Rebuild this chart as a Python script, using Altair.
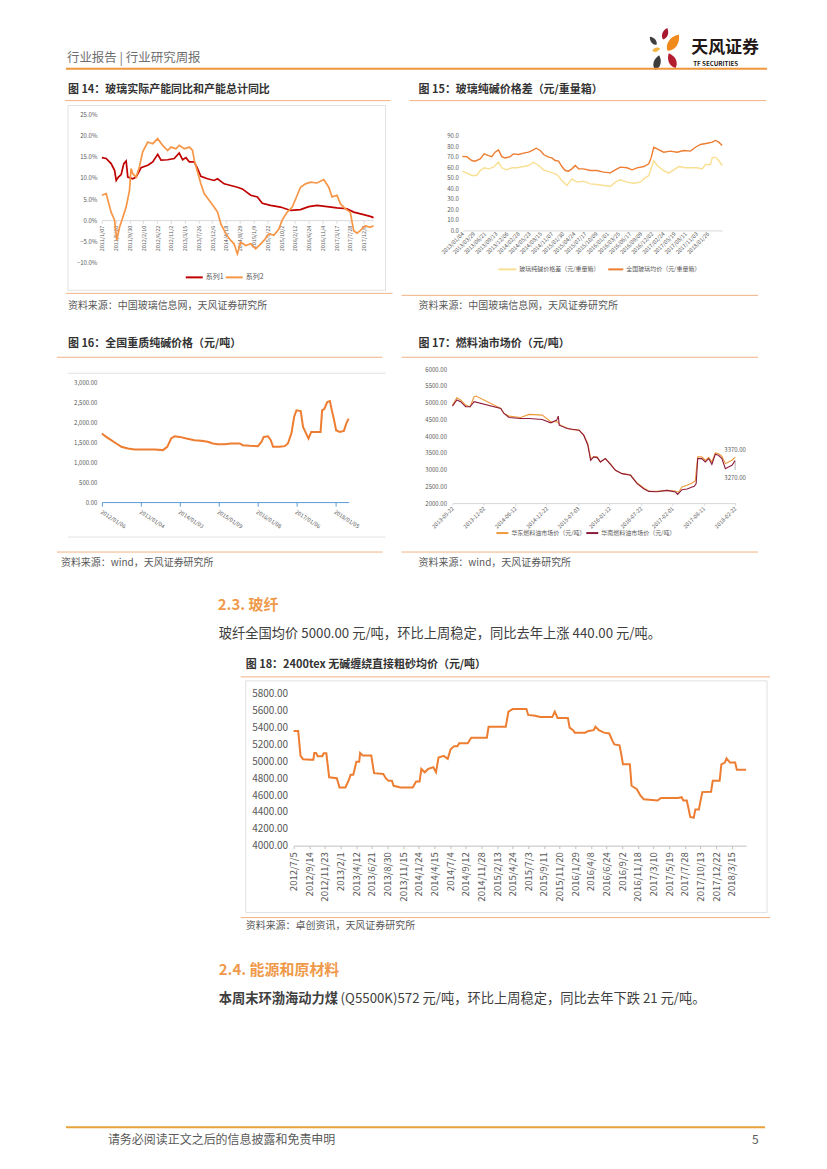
import json
import altair as alt
import pandas as pd

FONT = "Noto Sans CJK SC"
GREY = "#595959"
TXT = "#404040"
OR_THIN = "#f4b183"
OR_HEAD = "#ef9a4a"
BOXC = "#d9d9d9"

# ---------------- Fig 14 ----------------
c14_labels = ["2011/1/07", "2011/5/20", "2011/9/30", "2012/2/10", "2012/6/22", "2012/11/2",
              "2013/3/15", "2013/7/26", "2013/12/6", "2014/4/18", "2014/8/29", "2015/1/9",
              "2015/5/22", "2015/10/2", "2016/2/12", "2016/6/24", "2016/11/4", "2017/3/17",
              "2017/7/28", "2017/12/8"]
c14_x1 = [0.00, 0.31, 0.67, 0.92, 1.04, 1.20, 1.40, 1.59, 1.76, 1.88, 2.24, 2.48, 2.84, 3.33, 3.69,
          4.05, 4.29, 4.77, 5.25, 5.61, 5.86, 6.10, 6.34, 6.70, 6.94, 7.18, 7.66, 8.14, 8.39, 8.87,
          9.35, 9.83, 10.19, 10.80, 11.28, 11.64, 12.24, 12.96, 13.69, 14.41, 15.01, 15.61, 16.34,
          17.06, 17.78, 18.27, 18.99, 19.47, 19.71]
c14_v1 = [14.8, 14.6, 13.4, 11.8, 9.4, 10.2, 10.8, 13.4, 14.0, 10.2, 9.8, 10.2, 12.4, 13.0, 13.8,
          15.6, 14.2, 14.3, 14.6, 15.9, 14.3, 14.8, 13.8, 13.8, 12.2, 10.4, 9.8, 9.4, 9.8, 8.6,
          8.2, 7.8, 7.4, 5.9, 5.5, 4.0, 3.5, 3.1, 2.3, 2.5, 3.2, 3.5, 3.2,
          2.9, 2.7, 1.9, 1.3, 0.9, 0.6]
c14_x2 = [0.00, 0.31, 0.67, 0.92, 1.08, 1.28, 1.52, 1.76, 2.00, 2.12, 2.24, 2.48, 2.72, 2.96, 3.33,
          3.69, 4.05, 4.41, 4.77, 5.01, 5.37, 5.61, 5.98, 6.34, 6.58, 6.70, 6.94, 7.18, 7.42, 7.78,
          8.14, 8.39, 8.63, 8.99, 9.35, 9.59, 9.83, 10.07, 10.43, 10.80, 11.16, 11.52, 11.76, 12.12,
          12.48, 12.84, 13.08, 13.45, 13.81, 14.17, 14.41, 14.77, 15.13, 15.61, 16.10, 16.46, 16.70,
          17.06, 17.30, 17.66, 18.02, 18.27, 18.51, 18.75, 19.11, 19.47, 19.71]
c14_v2 = [5.9, 6.3, 1.9, 0.0, -4.8, -1.7, 0.7, 3.1, 7.0, 12.2, 11.0, 10.2, 12.6, 16.2, 18.5,
          18.1, 19.3, 17.7, 16.5, 17.3, 16.9, 17.7, 16.9, 17.3, 16.5, 14.2, 11.4, 8.6, 6.3, 4.7,
          3.1, 1.9, -0.9, -3.2, -4.8, -5.6, -8.0, -5.2, -6.0, -5.6, -6.8, -5.6, -4.8, -3.2,
          -3.6, -2.1, 0.0, 1.9, 3.1, 5.9, 7.8, 8.6, 9.0, 8.8, 9.6, 7.8, 5.5,
          5.9, 3.9, 2.7, 1.9, -2.5, -3.1, -2.5, -1.3, -1.7, -1.3]
c14_series = ["系列1", "系列2"]
c14_colors = ["#c00000", "#f79646"]
c14_yticks = [-10, -5, 0, 5, 10, 15, 20, 25]

# ---------------- Fig 15 ----------------
c15_labels = ["2013/01/04", "2013/03/29", "2013/06/21", "2013/09/13", "2013/12/06", "2014/02/28",
              "2014/05/23", "2014/08/15", "2014/11/07", "2015/01/30", "2015/04/24", "2015/07/17",
              "2015/10/09", "2016/01/01", "2016/03/25", "2016/06/17", "2016/09/09", "2016/12/02",
              "2017/02/24", "2017/05/19", "2017/08/11", "2017/11/03", "2018/01/26"]
c15_xa = [0, 0.39, 0.84, 1.14, 1.59, 1.95, 2.34, 2.63, 2.93, 3.23, 3.53, 3.83, 4.28, 4.58, 5.03,
          5.48, 5.93, 6.23, 6.62, 6.98, 7.28, 7.72, 8.02, 8.32, 8.62, 8.92, 9.22, 9.52, 9.82, 10.12,
          10.42, 10.87, 11.47, 12.07, 12.66, 13.26, 13.71, 14.16, 14.76, 15.21, 15.66, 16.26, 16.71,
          16.92, 17.16, 17.46, 18.05, 18.65, 19.25, 19.85, 20.45, 20.90, 21.35, 21.95, 22.40, 22.69,
          22.99, 23.29]
c15_va = [70.1, 70, 66.3, 65.7, 67.9, 72.6, 71, 70, 74.2, 76.4, 70, 68.8, 70, 72.6, 72,
          73.3, 74.2, 75.8, 78, 75.8, 72, 69.5, 68.8, 66.3, 65.7, 60.6, 56.8, 56.2, 58.4, 61.6,
          58.4, 58.4, 56.8, 56.8, 55.3, 54.6, 57.5, 60, 59.4, 57.5, 59.4, 60.6, 63.2,
          68.8, 78.9, 77.4, 74.2, 75.2, 74.2, 75.8, 75.2, 78.9, 81.5, 82.7, 83.7, 85.3,
          83.7, 80.5]
c15_xb = [0, 0.39, 0.84, 1.29, 1.59, 1.95, 2.34, 2.78, 3.23, 3.53, 3.98, 4.43, 4.88, 5.48, 5.93,
          6.38, 6.83, 7.28, 7.87, 8.47, 8.92, 9.37, 9.82, 10.27, 10.87, 11.47, 12.07, 12.66, 13.26,
          13.71, 14.16, 14.76, 15.36, 15.96, 16.26, 16.71, 16.92, 17.16, 17.46, 18.05, 18.50, 18.95,
          19.40, 20.00, 20.60, 21.05, 21.50, 21.80, 22.25, 22.40, 22.69, 22.99, 23.29]
c15_vb = [56.2, 54.3, 52.1, 52.1, 56.8, 59.4, 58.4, 60, 64.7, 59.4, 57.5, 59.4, 59.4, 60.6, 61.6,
          64.7, 61.6, 57.5, 55.3, 53, 47.4, 42.6, 48.9, 45.8, 46.7, 44.2, 43.6, 42.6, 41.7,
          45.8, 48, 45.8, 44.8, 45.8, 48.9, 52.1, 58.4, 66.3, 61.6, 56.8, 54.3, 57.5,
          60.6, 59.4, 59.4, 59.4, 58.4, 62.5, 62.5, 68.8, 69.5, 66.3, 61.6]
c15_series = ["玻璃纯碱价格差（元/重量箱）", "全国玻璃均价（元/重量箱）"]
c15_colors = ["#f9df91", "#ed7d31"]
c15_yticks = [0, 10, 20, 30, 40, 50, 60, 70, 80, 90]

# ---------------- Fig 16 ----------------
c16_labels = ["2012/01/06", "2013/01/04", "2014/01/03", "2015/01/09", "2016/01/08", "2017/01/06",
              "2018/01/05"]
c16_x = [0, 0.11, 0.24, 0.37, 0.50, 0.67, 0.84, 1.10, 1.35, 1.57, 1.68, 1.78, 1.87, 2.00, 2.17,
         2.38, 2.55, 2.72, 2.85, 2.98, 3.15, 3.32, 3.54, 3.62, 3.80, 4.01, 4.10, 4.16, 4.27, 4.34,
         4.40, 4.57, 4.70, 4.78, 4.87, 4.94, 5.00, 5.11, 5.17, 5.25, 5.31, 5.38, 5.55, 5.62, 5.66,
         5.72, 5.79, 5.86, 5.91, 5.96, 6.02, 6.11, 6.22, 6.28, 6.34]
c16_v = [1715, 1632, 1550, 1467, 1384, 1343, 1318, 1318, 1318, 1301, 1384, 1591, 1649, 1632, 1591,
         1550, 1533, 1508, 1467, 1450, 1450, 1467, 1467, 1425, 1409, 1400, 1508, 1632, 1649, 1550,
         1384, 1384, 1400, 1467, 1715, 2130, 2296, 2279, 1881, 1715, 1591, 1757, 1757, 1757, 2296,
         2337, 2503, 2528, 2296, 2088, 1798, 1757, 1782, 1964, 2088]
c16_yticks = [0, 500, 1000, 1500, 2000, 2500, 3000]

# ---------------- Fig 17 ----------------
c17_labels = ["2013-05-22", "2013-12-02", "2014-06-12", "2014-12-22", "2015-07-03", "2016-01-12",
              "2016-07-22", "2017-02-01", "2017-08-11", "2018-02-22"]
c17_xa = [0, 0.14, 0.26, 0.42, 0.56, 0.69, 0.75, 1.54, 1.64, 1.80, 2.17, 2.44, 2.86, 3.13, 3.34,
          3.44, 3.76, 4.03, 4.18, 4.31, 4.40, 4.50, 4.61, 4.71, 4.87, 5.03, 5.19, 5.40, 5.67, 5.88,
          6.09, 6.25, 6.51, 6.83, 7.10, 7.20, 7.31, 7.47, 7.63, 7.73, 7.81, 7.94, 8.05, 8.16, 8.26,
          8.37, 8.47, 8.58, 8.69, 8.79, 8.90, 9.00]
c17_va = [4930, 5150, 5080, 4930, 4880, 5180, 5200, 4830, 4680, 4600, 4560, 4650, 4630, 4430, 4430,
          4330, 4200, 4180, 4030, 3780, 3330, 3380, 3380, 3230, 3330, 3180, 2980, 2880, 2850, 2600,
          2450, 2360, 2350, 2380, 2360, 2320, 2480, 2530, 2600, 2660, 3380, 3380, 3280, 3360, 3230,
          3500, 3480, 3400, 3180, 3230, 3280, 3370]
c17_xb = [0, 0.14, 0.26, 0.42, 0.56, 0.69, 1.54, 1.64, 1.80, 2.17, 2.44, 2.86, 3.13, 3.32, 3.37,
          3.40, 3.65, 4.03, 4.18, 4.31, 4.40, 4.50, 4.61, 4.71, 4.87, 5.03, 5.19, 5.40, 5.67, 5.88,
          6.09, 6.25, 6.51, 6.83, 7.10, 7.17, 7.31, 7.47, 7.63, 7.70, 7.76, 7.81, 7.94, 8.05, 8.16,
          8.26, 8.37, 8.47, 8.58, 8.69, 8.79, 8.90, 9.00]
c17_vb = [4900, 5080, 5030, 4880, 4880, 5030, 4830, 4680, 4560, 4530, 4530, 4500, 4400, 4480, 4600,
          4330, 4230, 4180, 4030, 3730, 3280, 3380, 3360, 3230, 3330, 3160, 2980, 2880, 2830, 2580,
          2430, 2350, 2340, 2380, 2330, 2260, 2400, 2420, 2480, 2500, 2580, 3330, 3330, 3230, 3330,
          3160, 3460, 3430, 3330, 3030, 3080, 3130, 3270]
c17_series = ["华东燃料油市场价（元/吨）", "华南燃料油市场价（元/吨）"]
c17_colors = ["#ee9a3a", "#8c1c3c"]
c17_yticks = [2000, 2500, 3000, 3500, 4000, 4500, 5000, 5500, 6000]

# ---------------- Fig 18 ----------------
c18_labels = ["2012/7/5", "2012/9/14", "2012/11/23", "2013/2/1", "2013/4/12", "2013/6/21",
              "2013/8/30", "2013/11/15", "2014/1/24", "2014/4/15", "2014/7/4", "2014/9/12",
              "2014/11/28", "2015/2/13", "2015/4/24", "2015/7/3", "2015/9/11", "2015/11/20",
              "2016/1/29", "2016/4/8", "2016/6/24", "2016/9/2", "2016/11/18", "2017/3/10",
              "2017/5/19", "2017/7/28", "2017/10/13", "2017/12/22", "2018/3/15"]
c18_x = [0.00, 0.29, 0.44, 0.60, 1.10, 1.26, 1.32, 1.43, 1.54, 1.83, 1.92, 2.09, 2.27, 2.76, 2.93,
         3.31, 3.53, 3.64, 3.81, 3.90, 4.01, 4.19, 4.25, 4.41, 4.96, 5.14, 5.73, 5.89, 6.06, 6.28,
         6.39, 6.83, 7.61, 7.83, 8.05, 8.16, 8.38, 8.60, 8.93, 9.10, 9.26, 9.59, 9.85, 10.03, 10.25,
         10.47, 10.58, 11.13, 11.35, 12.35, 12.46, 13.56, 13.73, 14.00, 14.88, 14.99, 15.43, 15.76,
         16.53, 16.69, 16.87, 17.53, 17.64, 17.86, 17.97, 18.63, 18.85, 19.18, 19.29, 19.51, 19.84,
         20.17, 20.39, 20.50, 20.83, 20.94, 21.05, 21.49, 21.60, 21.94, 22.16, 22.38, 23.26, 23.48,
         24.58, 24.80, 24.91, 25.13, 25.24, 25.35, 25.57, 25.68, 25.90, 26.12, 26.68, 26.79, 27.23,
         27.34, 27.56, 27.67, 27.89, 28.22, 28.33, 28.92]
c18_v = [5360, 5360, 5065, 5025, 5020, 5020, 5100, 5100, 5060, 5060, 5095, 5095, 4810, 4800, 4690,
         4690, 4780, 4840, 4840, 4910, 4995, 4995, 5100, 5070, 5070, 4860, 4850, 4800, 4770, 4770,
         4710, 4690, 4690, 4760, 4760, 4910, 4870, 4910, 4930, 4870, 5045, 5065, 5030, 5140, 5180,
         5180, 5215, 5215, 5280, 5280, 5410, 5410, 5590, 5620, 5620, 5550, 5540, 5525,
         5525, 5590, 5515, 5515, 5400, 5370, 5340, 5340, 5360, 5370, 5410, 5370, 5340,
         5330, 5240, 5200, 5190, 5085, 4965, 4965, 4710, 4670, 4595, 4550, 4535, 4565,
         4565, 4575, 4535, 4535, 4440, 4340, 4330, 4430, 4430, 4635, 4640, 4770, 4770,
         4965, 4985, 5035, 4985, 4985, 4900, 4900]
c18_yticks = [4000, 4200, 4400, 4600, 4800, 5000, 5200, 5400, 5600, 5800]

# ---------------- texts ----------------
header_text = "行业报告  |  行业研究周报"
t14 = "图 14：玻璃实际产能同比和产能总计同比"
t15 = "图 15：玻璃纯碱价格差（元/重量箱）"
t16 = "图 16：全国重质纯碱价格（元/吨）"
t17 = "图 17：燃料油市场价（元/吨）"
t18 = "图 18：2400tex 无碱缠绕直接粗砂均价（元/吨）"
src_glass = "资料来源：中国玻璃信息网，天风证券研究所"
src_wind = "资料来源：wind，天风证券研究所"
src_zc = "资料来源：卓创资讯，天风证券研究所"
sec23 = "2.3. 玻纤"
para23 = "玻纤全国均价 5000.00 元/吨，环比上周稳定，同比去年上涨 440.00 元/吨。"
sec24 = "2.4. 能源和原材料"
para24_bold = "本周末环渤海动力煤"
para24_rest = "(Q5500K)572 元/吨，环比上周稳定，同比去年下跌 21 元/吨。"
footer_text = "请务必阅读正文之后的信息披露和免责申明"
page_no = "5"

# ---------------- helpers ----------------
ONE = pd.DataFrame({"a": [0]})


def spacer(w, h):
    return alt.Chart(ONE).mark_point(opacity=0, size=1).encode(
        x=alt.value(0), y=alt.value(0)).properties(width=w, height=h)


def txt(t, x, y, size, color=TXT, weight="normal", align="left"):
    return alt.Chart(ONE).mark_text(text=t, align=align, baseline="middle", font=FONT,
                                    fontSize=size, color=color, fontWeight=weight).encode(
        x=alt.value(x), y=alt.value(y))


def hline(x1, x2, y, color=OR_THIN, w=1.0):
    return alt.Chart(ONE).mark_rule(color=color, strokeWidth=w).encode(
        x=alt.value(x1), x2=alt.value(x2), y=alt.value(y))


def box(x1, x2, y1, y2, color=BOXC):
    return alt.Chart(ONE).mark_rect(fillOpacity=0, stroke=color, strokeWidth=0.8).encode(
        x=alt.value(x1), x2=alt.value(x2), y=alt.value(y1), y2=alt.value(y2))


def legend(entries, y, size):
    out = []
    for x0, length, color, label in entries:
        out.append(hline(x0, x0 + length, y, color, 2))
        out.append(txt(label, x0 + length + 3, y, size, GREY))
    return out


PETAL = "M0,-1C0.62,-0.35 0.62,0.55 0,1C-0.62,0.55 -0.62,-0.35 0,-1Z"


def petal(x, y, size, angle, color):
    return alt.Chart(ONE).mark_point(shape=PETAL, filled=True, size=size, angle=angle % 360,
                                     color=color, opacity=1, strokeWidth=0).encode(
        x=alt.value(x), y=alt.value(y))


def lab_expr(labels):
    return json.dumps(labels, ensure_ascii=False) + "[round(datum.value)]"


def ax(**kw):
    base = dict(title=None, labelFont=FONT, labelColor=GREY, grid=False, labelOverlap=False,
                labelFlush=False)
    base.update(kw)
    return alt.Axis(**base)


def series_line(xs, vs, color, width, xenc, yenc):
    return alt.Chart(pd.DataFrame({"x": xs, "v": vs})).mark_line(
        color=color, strokeWidth=width).encode(x=xenc, y=yenc)


# ---------------- band A (header + titles of 14/15) ----------------
bandA = alt.layer(
    txt(header_text, 58, 49, 12.5, "#6f6f6f"),
    petal(657, 25, 150, 20, "#a8182f"),
    petal(645, 32, 110, -40, "#404040"),
    petal(665, 34, 400, 35, "#f08a1c"),
    petal(648, 41, 70, 70, "#f6b33c"),
    petal(649, 54, 230, 15, "#3c3c3c"),
    petal(664, 52, 260, -25, "#b41c30"),
    txt("天风证券", 683, 39, 17, "#231815", "bold"),
    txt("TF SECURITIES", 685, 55, 6.2, "#231815", "bold"),
    hline(57, 759, 60, "#f0963c", 2),
    txt(t14, 59, 81, 11, "#333333", "bold"),
    hline(56, 382, 92),
    txt(t15, 410, 81, 11, "#333333", "bold"),
    hline(401, 758, 92),
).properties(width=811, height=106)

# ---------------- Fig 14 ----------------
W14, H14 = 272, 148
x14 = alt.X("x:Q", scale=alt.Scale(domain=[0, 19.71], nice=False, zero=False),
            axis=ax(values=list(range(len(c14_labels))), labelExpr=lab_expr(c14_labels),
                    labelAngle=270, labelAlign="right", labelBaseline="middle", labelFontSize=5.5,
                    labelPadding=2, offset=-H14 * 10 / 35, domainColor=BOXC, tickColor=BOXC,
                    tickSize=3))
y14 = alt.Y("v:Q", scale=alt.Scale(domain=[-10, 25], nice=False, zero=False),
            axis=ax(values=c14_yticks, labelExpr="format(datum.value,'.1f')+'%'", domain=False,
                    ticks=False, labelFontSize=6, labelPadding=5))
ch14 = alt.layer(
    box(-34, 284, -9, 176),
    series_line(c14_x1, c14_v1, c14_colors[0], 1.7, x14, y14),
    series_line(c14_x2, c14_v2, c14_colors[1], 1.7, x14, y14),
    *legend([(84, 17, c14_colors[0], c14_series[0]), (124, 17, c14_colors[1], c14_series[1])],
            163, 7),
    hline(-36, 291, 179),
    txt(src_glass, -34, 192, 10, GREY),
).properties(width=W14, height=H14)

# ---------------- Fig 15 ----------------
W15, H15 = 260, 95
x15 = alt.X("x:Q", scale=alt.Scale(domain=[0, 23.29], nice=False, zero=False),
            axis=ax(values=list(range(len(c15_labels))), labelExpr=lab_expr(c15_labels),
                    labelAngle=315, labelAlign="right", labelBaseline="middle", labelFontSize=5.5,
                    labelPadding=2, domainColor=BOXC, ticks=False))
y15 = alt.Y("v:Q", scale=alt.Scale(domain=[0, 90], nice=False, zero=False),
            axis=ax(values=c15_yticks, format=".1f", domain=False, ticks=False,
                    labelFontSize=6, labelPadding=4))
ch15 = alt.layer(
    series_line(c15_xb, c15_vb, c15_colors[0], 1.4, x15, y15),
    series_line(c15_xa, c15_va, c15_colors[1], 1.4, x15, y15),
    *legend([(36, 18, c15_colors[0], c15_series[0]), (146, 15, c15_colors[1], c15_series[1])],
            134, 6),
    hline(-61, 296, 160),
    txt(src_glass, -44, 171, 10, GREY),
).properties(width=W15, height=H15)

# ---------------- Fig 16 ----------------
W16, H16 = 247, 120
x16 = alt.X("x:Q", scale=alt.Scale(domain=[0, 6.34], nice=False, zero=False),
            axis=ax(values=list(range(len(c16_labels))), labelExpr=lab_expr(c16_labels),
                    labelAngle=33, labelAlign="left", labelBaseline="top", labelFontSize=5.5,
                    labelPadding=3, domainColor="#5b9bd5", tickColor="#5b9bd5", tickSize=4))
y16 = alt.Y("v:Q", scale=alt.Scale(domain=[0, 3000], nice=False, zero=False),
            axis=ax(values=c16_yticks, format=",.2f", domain=False, ticks=False,
                    labelFontSize=6, labelPadding=5))
ch16 = alt.layer(
    txt(t16, -34, -38, 11, "#333333", "bold"),
    hline(-45, 281, -25),
    hline(-34, 284, -9, BOXC, 0.8),
    hline(-34, 284, 155, BOXC, 0.8),
    series_line(c16_x, c16_v, "#ed7d31", 2, x16, y16),
    hline(-45, 281, 170),
    txt(src_wind, -41, 181, 10, GREY),
).properties(width=W16, height=H16)

# ---------------- Fig 17 ----------------
W17, H17 = 283, 134
x17 = alt.X("x:Q", scale=alt.Scale(domain=[0, 9], nice=False, zero=False),
            axis=ax(values=list(range(len(c17_labels))), labelExpr=lab_expr(c17_labels),
                    labelAngle=315, labelAlign="right", labelBaseline="middle", labelFontSize=5.5,
                    labelPadding=2, domainColor=BOXC, tickColor=BOXC, tickSize=2))
y17 = alt.Y("v:Q", scale=alt.Scale(domain=[2000, 6000], nice=False, zero=False),
            axis=ax(values=c17_yticks, format=".2f", domain=False, ticks=False,
                    labelFontSize=6, labelPadding=6))
ann17_a = pd.DataFrame({"x": [c17_xa[-1]], "v": [c17_va[-1]], "t": [f"{c17_va[-1]:.2f}"]})
ann17_b = pd.DataFrame({"x": [c17_xb[-1]], "v": [c17_vb[-1]], "t": [f"{c17_vb[-1]:.2f}"],
                        "v2": [c17_vb[-1] - 280]})
lab17a = alt.Chart(ann17_a).mark_text(font=FONT, fontSize=6, color=GREY, dy=-7).encode(
    x=x17, y=y17, text="t:N")
lab17b = alt.Chart(ann17_b).mark_text(font=FONT, fontSize=6, color=GREY, dy=17).encode(
    x=x17, y=y17, text="t:N")
lead17 = alt.Chart(ann17_b).mark_rule(color="#7f7f7f", strokeWidth=0.6).encode(
    x=x17, y=y17, y2="v2:Q")
ch17 = alt.layer(
    txt(t17, -34, -25, 11, "#333333", "bold"),
    hline(-51, 306, -12),
    series_line(c17_xa, c17_va, c17_colors[0], 1.1, x17, y17),
    series_line(c17_xb, c17_vb, c17_colors[1], 1.1, x17, y17),
    lead17, lab17a, lab17b,
    *legend([(44, 12, c17_colors[0], c17_series[0]), (134, 12, c17_colors[1], c17_series[1])],
            164, 6),
    hline(-51, 306, 183),
    txt(src_wind, -34, 194, 10, GREY),
).properties(width=W17, height=H17)

# ---------------- band E (section 2.3) ----------------
bandE = alt.layer(
    txt(sec23, 209, 102, 15, OR_HEAD, "bold"),
    txt(para23, 210, 131, 13.3, TXT),
).properties(width=811, height=191)

# ---------------- Fig 18 ----------------
W18, H18 = 453, 152
x18 = alt.X("x:Q", scale=alt.Scale(domain=[0, 28.92], nice=False, zero=False),
            axis=ax(values=list(range(len(c18_labels))), labelExpr=lab_expr(c18_labels),
                    labelAngle=270, labelAlign="right", labelBaseline="middle", labelFontSize=9.5,
                    labelPadding=3, domainColor="#bfbfbf", tickColor="#bfbfbf", tickSize=3))
y18 = alt.Y("v:Q", scale=alt.Scale(domain=[4000, 5800], nice=False, zero=False),
            axis=ax(values=c18_yticks, format=".2f", domain=False, ticks=False,
                    labelFontSize=10, labelPadding=6))
ch18 = alt.layer(
    txt(t18, -48, -29, 11, "#333333", "bold"),
    hline(-53, 477, -17),
    box(-48, 474, -13, 219),
    series_line(c18_x, c18_v, "#ed7d31", 2, x18, y18),
    hline(-53, 477, 224),
    txt(src_zc, -48, 232, 10, GREY),
    txt(sec24, -75, 276, 15, OR_HEAD, "bold"),
    txt(para24_bold, -75, 306, 13.3, TXT, "bold"),
    txt(para24_rest, 47, 306, 13.3, TXT),
    hline(-228, 472, 434, "#e9a23b", 2),
    txt(footer_text, -186, 447, 12, GREY),
    txt(page_no, 459, 447, 12, GREY),
).properties(width=W18, height=H18)


# ---------------- page layout ----------------
# a row (hconcat) inside the flush vconcat takes no height, spacers set the vertical steps
def row(left, ch):
    return alt.hconcat(spacer(left, 1), ch, spacing=0, bounds="flush")


chart = alt.vconcat(
    bandA,                 # page y 8 .. 114
    row(93, ch14),         # plot top 114
    spacer(1, 21),
    row(454, ch15),        # plot top 135
    spacer(1, 234),
    row(444, ch17),        # plot top 369
    spacer(1, 13),
    row(93, ch16),         # plot top 382
    spacer(1, 121),
    bandE,                 # 503 .. 694
    row(285, ch18),        # plot top 694
    spacing=0, bounds="flush", padding=0,
).configure(font=FONT, view=alt.ViewConfig(stroke="transparent", strokeWidth=0))

chart.save("out.html", embed_options={"renderer": "svg", "actions": False})
